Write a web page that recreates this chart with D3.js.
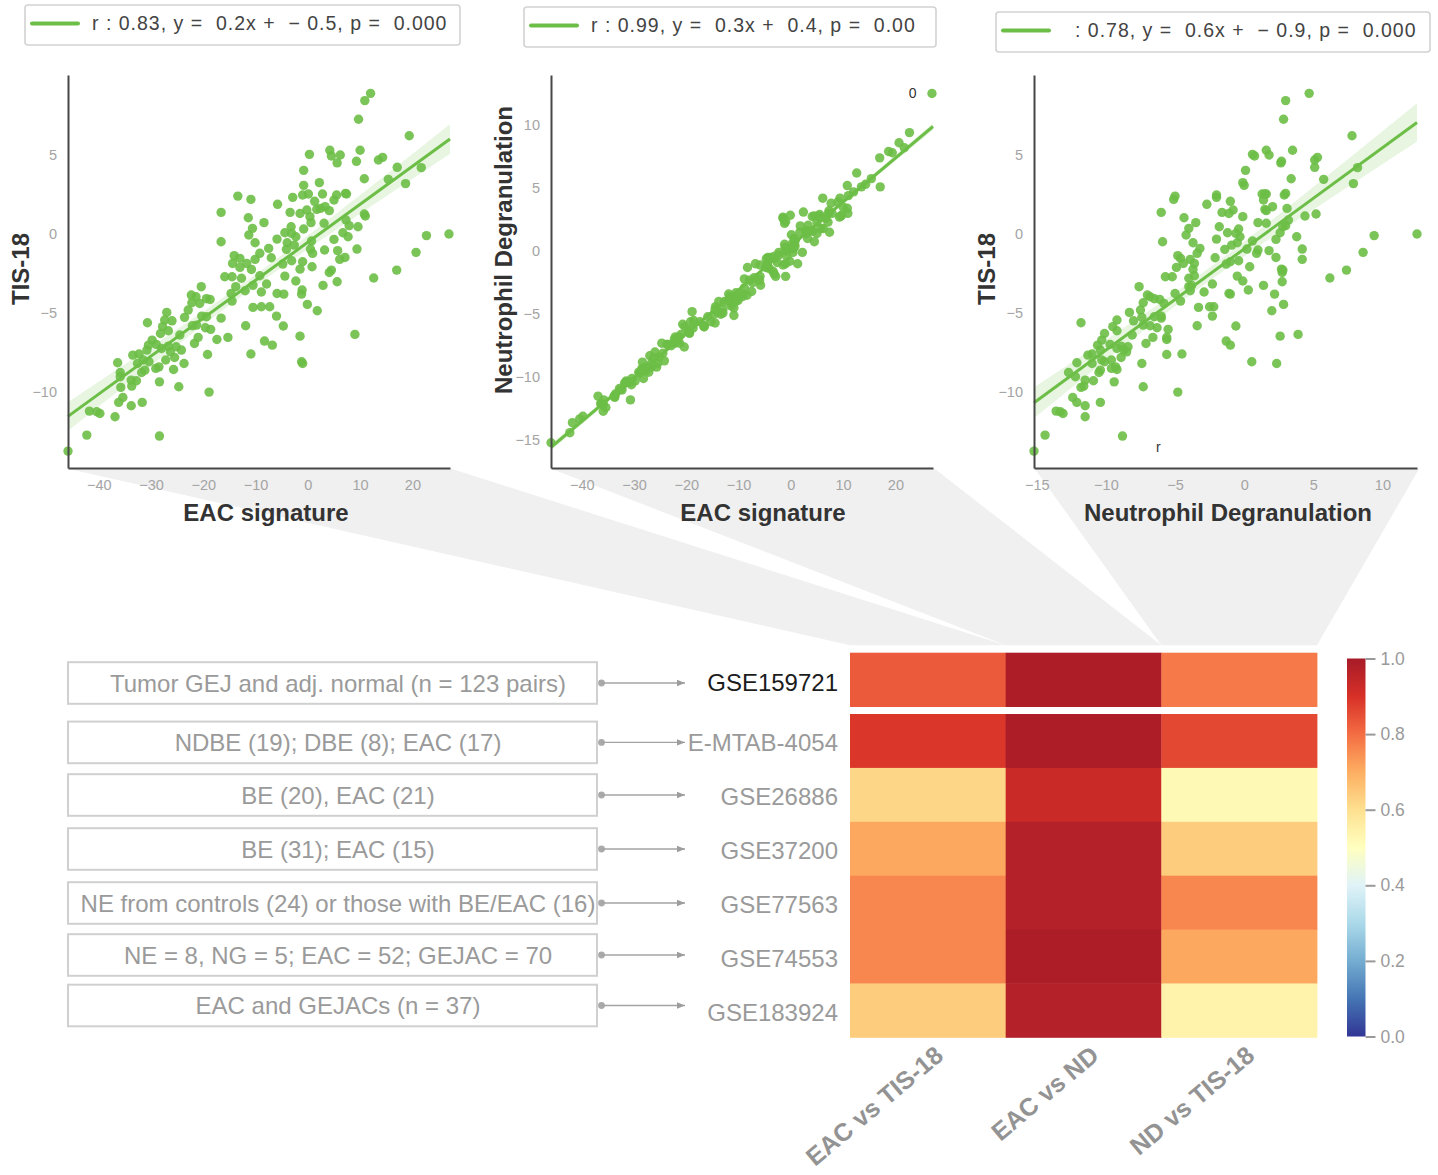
<!DOCTYPE html>
<html>
<head>
<meta charset="utf-8">
<script src="https://cdn.jsdelivr.net/npm/d3@7"></script>
<style>
  body { margin: 0; background: #fff; }
  svg { display: block; font-family: "Liberation Sans", Arial, Helvetica, sans-serif; }
</style>
</head>
<body>
<svg id="chart" width="1438" height="1175"></svg>
<script>
// ---------- sample scores (one entry per sample, same order in every array) ----------
const eacSignature = [
  12.0,10.9,9.7,19.4,0.3,4.2,4.5,6.2,5.6,10.0,
  9.3,13.5,14.3,17.1,21.7,-0.8,10.8,15.4,18.7,2.2,
  -0.8,-13.4,-10.9,-2.9,-1.0,0.1,2.8,1.3,5.0,5.5,
  7.2,7.4,-5.8,-3.4,-16.6,-0.2,-1.5,1.7,3.3,4.1,
  2.4,10.8,11.0,-11.4,-8.4,0.4,0.6,-10.6,-3.2,-0.8,
  3.1,7.3,7.9,9.6,-11.3,-4.4,-3.1,6.7,7.7,27.0,
  22.7,-16.6,-10.1,-5.9,-3.95,-2.3,0.7,5.0,9.4,-7.5,
  -4.1,-2.6,0.5,3.2,5.7,20.7,0.9,-9.2,-14.1,-7.0,
  -10.1,-13.0,6.1,7.1,-14.4,-11.7,-4.8,-3.1,-1.0,-10.8,
  -13.0,-1.5,0.8,4.5,4.1,17.0,-15.9,-14.5,-12.7,-9.2,
  -4.4,12.6,-2.3,5.6,-20.4,-13.8,-10.5,-7.9,2.9,-12.0,
  -8.9,-1.1,-22.3,-21.4,-19.4,-18.7,-14.7,-14.5,-5.9,-4.6,
  -1.2,-22.2,-20.7,-22.9,-10.5,-8.9,-7.3,-0.1,1.8,-27.0,
  -23.6,-20.3,-16.6,-27.4,-26.0,-19.4,-6.0,-30.7,-27.8,-26.7,
  -22.1,-21.3,-19.6,-18.6,-11.9,-4.7,-29.8,-28.2,-24.5,-21.0,
  -17.4,-15.3,-1.5,9.0,-30.5,-29.0,-26.7,-25.2,-21.7,-8.3,
  -6.8,-32.3,-30.8,-28.0,-24.2,-26.3,-33.5,-19.2,-10.9,-31.5,
  -30.4,-27.2,-25.5,-23.7,-1.2,-1.0,-36.4,-32.6,-29.1,-25.7,
  -35.9,-31.8,-31.2,-28.5,-35.9,-33.8,-32.8,-28.4,-33.7,-35.8,
  -24.7,-18.9,-35.4,-36.2,-33.8,-31.7,-41.8,-40.4,-39.8,-36.9,
  -42.3,-28.4,-45.9
];
const neutrophilDegranulation = [
  4.7,3.0,2.85,7.8,0.6,1.6,0.75,1.8,2.65,3.5,
  2.7,5.1,5.3,5.1,8.2,0.1,3.4,5.75,7.9,-0.1,
  0.0,-5.0,-5.1,-2.0,-2.0,1.3,1.6,-1.0,1.4,2.9,
  3.0,1.5,-2.7,-1.6,-6.0,-0.8,-1.1,1.5,2.05,1.6,
  3.1,5.2,4.4,-4.35,-3.5,-0.1,1.0,-4.0,-1.8,-0.4,
  1.6,3.2,3.0,2.8,-4.2,-1.2,-0.6,2.6,3.8,12.5,
  9.4,-5.9,-3.7,-2.0,-0.5,-0.3,0.6,2.3,4.2,-3.2,
  -1.4,-0.9,0.2,1.0,1.8,8.6,0.9,-3.4,-4.8,-2.1,
  -3.9,-4.6,4.2,2.3,-4.4,-3.6,-1.3,-0.4,-1.0,-3.7,
  -4.9,2.7,0.4,2.8,2.75,7.4,-5.2,-5.7,-4.0,-3.6,
  -0.5,6.2,-0.1,2.75,-7.6,-4.0,-3.8,-2.3,1.4,-3.9,
  -2.9,0.3,-7.0,-6.8,-6.5,-6.1,-5.0,-4.6,-1.1,-1.0,
  2.2,-7.3,-5.8,-7.5,-3.3,-2.2,-2.5,2.85,2.0,-8.3,
  -7.4,-6.0,-6.0,-9.2,-8.0,-6.5,-2.3,-11.8,-9.5,-9.2,
  -6.8,-7.3,-6.3,-5.5,-3.4,-0.6,-10.3,-10.1,-8.1,-6.6,
  -5.6,-5.6,2.6,3.9,-10.6,-9.7,-8.9,-8.4,-7.1,-1.3,
  -1.0,-11.0,-10.4,-9.2,-8.7,-8.5,-11.3,-5.6,-4.5,-10.3,
  -10.1,-9.6,-8.9,-7.4,0.55,2.35,-12.1,-11.0,-9.6,-9.2,
  -12.7,-10.5,-10.4,-9.3,-12.2,-11.5,-10.9,-9.4,-11.6,-11.8,
  -7.3,-4.8,-12.4,-12.1,-11.5,-10.4,-13.6,-13.3,-13.1,-11.5,
  -14.4,-8.8,-15.2
];
const tis18 = [
  8.9,8.44,7.26,6.22,5.04,5.3,4.94,5.0,4.5,5.3,
  4.6,4.68,4.85,4.22,4.2,4.03,3.5,3.46,3.19,3.25,
  3.08,2.4,2.19,2.32,2.47,2.53,2.53,2.07,2.15,2.47,
  2.57,2.53,1.88,1.37,1.37,1.52,1.3,1.56,1.73,1.48,
  1.62,1.27,1.14,1.03,0.72,1.1,0.72,0.36,0.46,0.32,
  0.68,0.89,0.53,0.46,-0.06,0.08,0.04,0.08,-0.17,0.0,
  -0.1,-0.49,-0.55,-0.32,-0.55,-0.17,-0.44,-0.34,-0.95,-0.91,
  -0.97,-0.7,-0.95,-1.01,-1.05,-1.16,-1.22,-1.22,-1.37,-1.5,
  -1.6,-1.54,-1.6,-1.48,-1.86,-1.86,-1.9,-1.69,-1.75,-2.24,
  -2.11,-2.22,-2.07,-2.28,-2.43,-2.28,-2.7,-2.7,-2.8,-2.64,
  -2.66,-2.78,-2.97,-3.02,-3.33,-3.33,-3.25,-3.16,-3.25,-3.59,
  -3.67,-3.54,-3.86,-3.97,-4.09,-4.14,-3.76,-4.24,-3.76,-3.8,
  -3.8,-4.35,-4.39,-4.81,-4.64,-4.6,-4.6,-4.45,-4.85,-4.96,
  -5.27,-5.19,-5.32,-5.44,-5.49,-5.23,-5.19,-5.61,-5.86,-6.12,
  -5.8,-5.76,-5.93,-6.03,-5.8,-5.82,-6.71,-6.29,-6.39,-6.54,
  -6.67,-6.54,-6.46,-6.35,-7.03,-6.98,-7.09,-7.13,-6.92,-6.77,
  -7.03,-7.59,-7.34,-7.24,-7.34,-7.45,-7.66,-7.62,-7.59,-7.97,
  -8.08,-7.97,-7.81,-8.19,-8.08,-8.19,-8.14,-8.19,-8.5,-8.57,
  -8.76,-8.76,-8.61,-8.4,-9.03,-9.24,-9.28,-9.35,-9.62,-9.7,
  -9.66,-10.0,-10.34,-10.65,-10.86,-10.65,-11.2,-11.24,-11.35,-11.56,
  -12.72,-12.78,-13.73
];

// ---------- regression panels ----------
const panelNames  = ["EAC vs TIS-18", "EAC vs ND", "ND vs TIS-18"];
const panelXLabel = ["EAC signature", "EAC signature", "Neutrophil Degranulation"];
const panelYLabel = ["TIS-18", "Neutrophil Degranulation", "TIS-18"];
const fitR         = [0.83, 0.99, 0.78];
const fitSlope     = [0.24, 0.348, 0.64];
const fitIntercept = [-0.52, 0.42, -0.94];
const fitP         = ["0.000", "0.00", "0.000"];
const legendLead   = ["r", "r", ""];
const xLimits = [[-45.9, 27.2], [-45.9, 27.2], [-15.2, 12.5]];
const yLimits = [[-14.8, 10.06], [-17.2, 13.97], [-14.8, 10.06]];
const xTicks  = [[-40, -30, -20, -10, 0, 10, 20], [-40, -30, -20, -10, 0, 10, 20], [-15, -10, -5, 0, 5, 10]];
const yTicks  = [[-10, -5, 0, 5], [-15, -10, -5, 0, 5, 10], [-10, -5, 0, 5]];

// ---------- cohort correlation heatmap ----------
const datasets = ["GSE159721", "E-MTAB-4054", "GSE26886", "GSE37200", "GSE77563", "GSE74553", "GSE183924"];
const cohorts = [
  "Tumor GEJ and adj. normal (n = 123 pairs)",
  "NDBE (19); DBE (8); EAC (17)",
  "BE (20), EAC (21)",
  "BE (31); EAC (15)",
  "NE from controls (24) or those with BE/EAC (16)",
  "NE = 8, NG = 5; EAC = 52; GEJAC = 70",
  "EAC and GEJACs (n = 37)"
];
const comparisons = ["EAC vs TIS-18", "EAC vs ND", "ND vs TIS-18"];
const eacVsTis = [0.83, 0.89, 0.62, 0.71, 0.76, 0.76, 0.64];
const eacVsNd  = [0.99, 0.99, 0.93, 0.97, 0.97, 0.99, 0.97];
const ndVsTis  = [0.78, 0.86, 0.52, 0.64, 0.76, 0.71, 0.54];
const colorbarTicks = [0, 0.2, 0.4, 0.6, 0.8, 1.0];
const rdYlBuStops = ["#a71b28","#d73027","#f46d43","#fdae61","#fee090","#ffffbf","#e0f3f8","#abd9e9","#74add1","#4575b4","#313695"];

// ---------- drawing ----------
const svg = d3.select("#chart");
const green = "#6cbe46";
const FONT = "'Liberation Sans', Arial, Helvetica, sans-serif";

const plotTop = 75, plotBottom = 468;
const plotLeft = [68, 551, 1034], plotRight = [450, 933, 1417];
const panelX = [eacSignature, eacSignature, neutrophilDegranulation];
const panelY = [tis18, neutrophilDegranulation, tis18];

// heatmap geometry
const hmLeft = 850, hmRight = 1317, hmTop = 652.7, rowH = 53.9, firstGap = 7.4;
const xBand = d3.scaleBand().domain(comparisons).range([hmLeft, hmRight]);
const rowTop = r => hmTop + r * rowH + (r > 0 ? firstGap : 0);
const colorScale = d3.scaleLinear()
  .domain(d3.range(11).map(k => k / 10))
  .range(rdYlBuStops.slice().reverse())
  .interpolate(d3.interpolateRgb);

// grey funnels linking each scatter panel to its heatmap column
const funnels = svg.append("g");
comparisons.forEach((c, i) => {
  const x0 = xBand(c), x1 = x0 + xBand.bandwidth();
  const pts = [[plotLeft[i] + 1, plotBottom + 1], [plotRight[i] + 2, plotBottom + 1], [x1, hmTop - 7.5], [x0, hmTop - 7.5]];
  funnels.append("polygon")
    .attr("points", pts.map(p => p.join(",")).join(" "))
    .attr("fill", "#f0f0f0");
});

// scatter + regression panels
const legendBox = [[25, 5, 435, 40], [524, 7, 412, 40], [996, 12, 434, 40]];
const xTitleCenter = [266, 763, 1228];
const yTitleX = [29, 512, 995];
const yTitleCenter = [269, 250, 269];

panelNames.forEach((name, i) => {
  const xs = d3.scaleLinear().domain(xLimits[i]).range([plotLeft[i], plotRight[i]]);
  const ys = d3.scaleLinear().domain(yLimits[i]).range([plotBottom, plotTop]);
  const X = panelX[i], Y = panelY[i], n = X.length;
  const fit = x => fitSlope[i] * x + fitIntercept[i];
  const g = svg.append("g");

  // 95% confidence band of the fitted line
  const xbar = d3.mean(X);
  const sxx = d3.sum(X, x => (x - xbar) ** 2);
  const s = Math.sqrt(d3.sum(X, (x, k) => (Y[k] - fit(x)) ** 2) / (n - 2));
  const half = x => 1.96 * s * Math.sqrt(1 / n + (x - xbar) ** 2 / sxx);
  const grid = d3.range(81).map(k => xLimits[i][0] + k * (xLimits[i][1] - xLimits[i][0]) / 80);
  g.append("path").datum(grid)
    .attr("d", d3.area().x(x => xs(x)).y0(x => ys(fit(x) - half(x))).y1(x => ys(fit(x) + half(x))))
    .attr("fill", green).attr("fill-opacity", 0.16);

  g.append("g").selectAll("circle").data(d3.range(n)).join("circle")
    .attr("cx", k => xs(X[k])).attr("cy", k => ys(Y[k]))
    .attr("r", 4.7).attr("fill", green).attr("fill-opacity", 0.9);

  g.append("line")
    .attr("x1", xs(xLimits[i][0])).attr("y1", ys(fit(xLimits[i][0])))
    .attr("x2", xs(xLimits[i][1])).attr("y2", ys(fit(xLimits[i][1])))
    .attr("stroke", green).attr("stroke-width", 3);

  // axes (left and bottom spines only)
  const styleAxis = a => {
    a.attr("font-family", FONT).attr("font-size", 14.5);
    a.select(".domain").attr("stroke", "#474747").attr("stroke-width", 2);
    a.selectAll("text").attr("fill", "#a4a4a4");
  };
  g.append("g").attr("transform", `translate(0,${plotBottom})`)
    .call(d3.axisBottom(xs).tickValues(xTicks[i]).tickSize(0).tickSizeOuter(0).tickPadding(12))
    .call(styleAxis);
  g.append("g").attr("transform", `translate(${plotLeft[i]},0)`)
    .call(d3.axisLeft(ys).tickValues(yTicks[i]).tickSize(0).tickSizeOuter(0).tickPadding(11))
    .call(styleAxis);

  // axis titles
  g.append("text")
    .attr("x", xTitleCenter[i]).attr("y", 521)
    .attr("text-anchor", "middle").attr("font-weight", "bold").attr("font-size", 24)
    .attr("fill", "#333").text(panelXLabel[i]);
  g.append("text")
    .attr("transform", `translate(${yTitleX[i]},${yTitleCenter[i]}) rotate(-90)`)
    .attr("text-anchor", "middle").attr("font-weight", "bold").attr("font-size", 24)
    .attr("fill", "#333").text(panelYLabel[i]);

  // legend box with fit statistics
  const [bx, by, bw, bh] = legendBox[i];
  const lg = svg.append("g");
  lg.append("rect").attr("x", bx).attr("y", by).attr("width", bw).attr("height", bh)
    .attr("rx", 3).attr("fill", "#fff").attr("stroke", "#d2d2d2").attr("stroke-width", 1.6);
  lg.append("line").attr("x1", bx + 7).attr("x2", bx + 53).attr("y1", by + 18.5).attr("y2", by + 18.5)
    .attr("stroke", green).attr("stroke-width", 4).attr("stroke-linecap", "round");
  const b = fitIntercept[i];
  const label = `${legendLead[i] ? legendLead[i] + " " : ""}: ${fitR[i].toFixed(2)}, y =  ${fitSlope[i].toFixed(1)}x +  ${b < 0 ? "\u2212 " : ""}${Math.abs(b).toFixed(1)}, p =  ${fitP[i]}`;
  lg.append("text")
    .attr("x", bx + 67 + (legendLead[i] ? 0 : 12)).attr("y", by + 25)
    .attr("font-size", 19.5).attr("letter-spacing", 1).attr("fill", "#444")
    .style("white-space", "pre").text(label);
});

// stray annotation glyphs inside the panels
{
  const xs2 = d3.scaleLinear().domain(xLimits[1]).range([plotLeft[1], plotRight[1]]);
  const ys2 = d3.scaleLinear().domain(yLimits[1]).range([plotBottom, plotTop]);
  svg.append("text").attr("x", xs2(23.3)).attr("y", ys2(12.5)).attr("dy", "0.35em")
    .attr("text-anchor", "middle").attr("font-size", 14).attr("fill", "#333").text("0");
  const xs3 = d3.scaleLinear().domain(xLimits[2]).range([plotLeft[2], plotRight[2]]);
  const ys3 = d3.scaleLinear().domain(yLimits[2]).range([plotBottom, plotTop]);
  svg.append("text").attr("x", xs3(-6.2)).attr("y", ys3(-13.5)).attr("dy", "0.35em")
    .attr("text-anchor", "middle").attr("font-size", 14).attr("fill", "#333").text("r");
}

// heatmap cells
const hm = svg.append("g");
const columns = [eacVsTis, eacVsNd, ndVsTis];
datasets.forEach((ds, r) => {
  comparisons.forEach((c, j) => {
    hm.append("rect")
      .attr("x", xBand(c)).attr("y", rowTop(r))
      .attr("width", xBand.bandwidth() + 0.4).attr("height", rowH + 0.4)
      .attr("fill", colorScale(columns[j][r]));
  });
  hm.append("text")
    .attr("x", 838).attr("y", rowTop(r) + rowH / 2 + (r === 0 ? 3 : 1.5)).attr("dy", "0.36em")
    .attr("text-anchor", "end").attr("font-size", 24)
    .attr("fill", r === 0 ? "#1c1c1c" : "#9a9a9a").text(ds);
});

// column labels
comparisons.forEach(c => {
  svg.append("text")
    .attr("transform", `translate(${xBand(c) + xBand.bandwidth() / 2 + 17},1058) rotate(-40)`)
    .attr("text-anchor", "end").attr("font-weight", "bold").attr("font-size", 25)
    .attr("fill", "#939393").text(c);
});

// cohort description boxes with arrows to the dataset ids
const defs = svg.append("defs");
defs.append("marker").attr("id", "arrowHead")
  .attr("viewBox", "0 0 10 10").attr("refX", 10).attr("refY", 5)
  .attr("markerWidth", 8).attr("markerHeight", 8).attr("markerUnits", "userSpaceOnUse")
  .attr("orient", "auto")
  .append("path").attr("d", "M0,1 L10,5 L0,9 Z").attr("fill", "#9d9d9d");

const boxCenter = [683, 742.4, 795, 849, 903, 955, 1005.5];
const boxes = svg.append("g");
cohorts.forEach((txt, r) => {
  const cy = boxCenter[r];
  boxes.append("rect").attr("x", 68).attr("y", cy - 20.8).attr("width", 529).attr("height", 41.6)
    .attr("fill", "#fff").attr("stroke", "#d0d0d0").attr("stroke-width", 2);
  boxes.append("text").attr("x", 338).attr("y", cy).attr("dy", "0.36em")
    .attr("text-anchor", "middle").attr("font-size", 24).attr("fill", "#9a9a9a").text(txt);
  boxes.append("circle").attr("cx", 601.5).attr("cy", cy).attr("r", 3.4).attr("fill", "#aaa");
  boxes.append("line").attr("x1", 601.5).attr("x2", 685).attr("y1", cy).attr("y2", cy)
    .attr("stroke", "#a3a3a3").attr("stroke-width", 1.3).attr("marker-end", "url(#arrowHead)");
});

// colour bar
const grad = defs.append("linearGradient").attr("id", "cbGrad")
  .attr("x1", 0).attr("y1", 1).attr("x2", 0).attr("y2", 0);
d3.range(11).forEach(k => grad.append("stop").attr("offset", k / 10).attr("stop-color", colorScale(k / 10)));
const cbTop = 658.5, cbBottom = 1036.5;
svg.append("rect").attr("x", 1347).attr("y", cbTop).attr("width", 18.5).attr("height", cbBottom - cbTop)
  .attr("fill", "url(#cbGrad)");
const cbScale = d3.scaleLinear().domain([0, 1]).range([cbBottom, cbTop]);
svg.append("g").attr("transform", "translate(1365.5,0)")
  .call(d3.axisRight(cbScale).tickValues(colorbarTicks).tickFormat(d3.format(".1f")).tickSize(10).tickPadding(5))
  .call(a => {
    a.attr("font-family", FONT).attr("font-size", 17.5);
    a.select(".domain").remove();
    a.selectAll("line").attr("stroke", "#9a9a9a").attr("stroke-width", 2);
    a.selectAll("text").attr("fill", "#9a9a9a");
  });
</script>
</body>
</html>
